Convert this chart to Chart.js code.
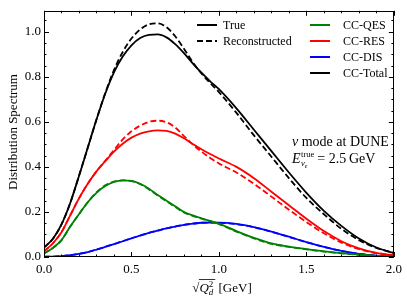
<!DOCTYPE html>
<html>
<head>
<meta charset="utf-8">
<script src="https://cdn.jsdelivr.net/npm/chart.js@4.4.1/dist/chart.umd.min.js"></script>
<style>
  html, body { margin: 0; padding: 0; background: #fff; }
  #wrap { width: 407px; height: 305px; position: relative; }
</style>
</head>
<body>
<div id="wrap"><canvas id="c"></canvas></div>
<script>
// ---- data ----
const xs = [0,0.05,0.1,0.15,0.2,0.25,0.3,0.35,0.4,0.45,0.5,0.55,0.6,0.65,0.7,0.75,0.8,0.85,0.9,0.95,1.0,1.1,1.2,1.3,1.4,1.5,1.6,1.7,1.8,1.9,2.0];

const totalTrue = [0.042,0.08,0.145,0.24,0.36,0.485,0.61,0.725,0.82,0.89,0.94,0.972,0.986,0.988,0.975,0.945,0.905,0.86,0.818,0.78,0.745,0.66,0.565,0.47,0.375,0.285,0.205,0.138,0.082,0.042,0.018];
const totalReco = [0.042,0.08,0.145,0.24,0.36,0.485,0.61,0.728,0.83,0.91,0.97,1.01,1.033,1.037,1.02,0.98,0.925,0.865,0.815,0.772,0.732,0.64,0.54,0.445,0.35,0.262,0.19,0.125,0.075,0.04,0.018];

const resTrue = [0.025,0.06,0.11,0.185,0.26,0.325,0.38,0.425,0.468,0.503,0.53,0.548,0.558,0.562,0.56,0.548,0.527,0.502,0.478,0.457,0.437,0.4,0.35,0.29,0.23,0.17,0.115,0.07,0.038,0.018,0.008];
const resReco = [0.025,0.06,0.11,0.185,0.26,0.325,0.38,0.427,0.475,0.522,0.558,0.583,0.6,0.605,0.598,0.575,0.537,0.5,0.468,0.44,0.415,0.375,0.325,0.268,0.21,0.155,0.105,0.064,0.035,0.017,0.008];

const qesTrue = [0.015,0.04,0.075,0.135,0.19,0.243,0.285,0.315,0.333,0.34,0.338,0.325,0.303,0.275,0.25,0.225,0.2,0.185,0.172,0.16,0.148,0.115,0.085,0.06,0.046,0.035,0.025,0.017,0.01,0.005,0.002];
const qesReco = [0.015,0.04,0.075,0.135,0.19,0.243,0.287,0.318,0.335,0.34,0.337,0.323,0.3,0.273,0.248,0.222,0.198,0.183,0.17,0.158,0.146,0.113,0.083,0.058,0.045,0.034,0.024,0.016,0.01,0.005,0.002];

const disTrue = [0.001,0.002,0.004,0.008,0.014,0.022,0.033,0.045,0.057,0.07,0.083,0.095,0.107,0.117,0.127,0.135,0.143,0.148,0.152,0.153,0.153,0.147,0.133,0.113,0.09,0.066,0.045,0.027,0.014,0.006,0.002];
const disReco = [0.001,0.002,0.004,0.008,0.014,0.022,0.033,0.045,0.057,0.07,0.083,0.095,0.107,0.117,0.127,0.135,0.143,0.148,0.152,0.153,0.152,0.146,0.132,0.112,0.089,0.066,0.045,0.027,0.014,0.006,0.002];

const xTicks = [0, 0.5, 1.0, 1.5, 2.0];
const xTickLabels = ['0.0','0.5','1.0','1.5','2.0'];
const yTicks = [0, 0.2, 0.4, 0.6, 0.8, 1.0];
const yTickLabels = ['0.0','0.2','0.4','0.6','0.8','1.0'];
const xMinorStep = 0.1, yMinorStep = 0.05;

const legendStyle = ['True', 'Reconstructed'];
const legendComp = ['CC-QES', 'CC-RES', 'CC-DIS', 'CC-Total'];
const compColors = ['#008000', '#ff0000', '#0000ff', '#000000'];

// ---- chart ----
const SERIF = '"Liberation Serif", "DejaVu Serif", serif';
const pts = arr => xs.map((x, i) => ({x: x, y: arr[i]}));
const ds = (arr, color, dashed) => ({
  data: pts(arr), borderColor: color, borderWidth: 1.8, borderDash: dashed ? [6, 3] : [],
  pointRadius: 0, fill: false, cubicInterpolationMode: 'monotone', tension: 0.4
});

const decor = {
  id: 'decor',
  afterDraw(chart) {
    const ctx = chart.ctx, a = chart.chartArea;
    const xs_ = chart.scales.x, ys_ = chart.scales.y;
    ctx.save();
    ctx.strokeStyle = '#000'; ctx.lineWidth = 1;
    // frame
    ctx.strokeRect(Math.round(a.left) + 0.5, Math.round(a.top) + 0.5, Math.round(a.right - a.left) - 1, Math.round(a.bottom - a.top) - 1);
    // ticks inward
    ctx.beginPath();
    const nx = Math.round((xs_.max - xs_.min) / xMinorStep);
    for (let i = 0; i <= nx; i++) {
      const v = xs_.min + i * xMinorStep;
      const major = xTicks.some(t => Math.abs(t - v) < 1e-6);
      const L = major ? 5 : 2.5;
      const px = Math.round(xs_.getPixelForValue(v)) + 0.5;
      ctx.moveTo(px, a.bottom); ctx.lineTo(px, a.bottom - L);
      ctx.moveTo(px, a.top); ctx.lineTo(px, a.top + L);
    }
    const ny = Math.floor((ys_.max - ys_.min) / yMinorStep + 1e-6);
    for (let i = 0; i <= ny; i++) {
      const v = ys_.min + i * yMinorStep;
      const major = yTicks.some(t => Math.abs(t - v) < 1e-6);
      const L = major ? 5 : 2.5;
      const py = Math.round(ys_.getPixelForValue(v)) + 0.5;
      ctx.moveTo(a.left, py); ctx.lineTo(a.left + L, py);
      ctx.moveTo(a.right, py); ctx.lineTo(a.right - L, py);
    }
    ctx.stroke();

    // legend
    ctx.fillStyle = '#000';
    ctx.font = '12px ' + SERIF;
    ctx.textBaseline = 'middle'; ctx.textAlign = 'left';
    const rowY = [25, 41, 57, 73];
    legendStyle.forEach((t, i) => {
      ctx.beginPath();
      ctx.lineWidth = 2; ctx.strokeStyle = '#000';
      ctx.setLineDash(i === 1 ? [6, 3] : []);
      ctx.moveTo(197, rowY[i]); ctx.lineTo(217, rowY[i]); ctx.stroke();
      ctx.setLineDash([]);
      ctx.fillText(t, 223, rowY[i] + 1);
    });
    legendComp.forEach((t, i) => {
      ctx.beginPath();
      ctx.lineWidth = 2; ctx.strokeStyle = compColors[i];
      ctx.moveTo(310, rowY[i]); ctx.lineTo(330, rowY[i]); ctx.stroke();
      ctx.fillText(t, 343, rowY[i] + 1);
    });

    // annotation
    ctx.textBaseline = 'alphabetic';
    let x = 292, y = 146;
    ctx.font = 'italic 14px ' + SERIF; ctx.fillText('ν', x, y); x += ctx.measureText('ν').width;
    ctx.font = '14px ' + SERIF; ctx.fillText(' mode at DUNE', x, y);
    x = 292; y = 163;
    ctx.font = 'italic 14px ' + SERIF; ctx.fillText('E', x, y); x += ctx.measureText('E').width + 0.5;
    ctx.font = '8.5px ' + SERIF; ctx.fillText('true', x, y - 6);
    const wTrue = ctx.measureText('true').width;
    ctx.font = 'italic 8.5px ' + SERIF; ctx.fillText('ν', x, y + 3);
    const wNu = ctx.measureText('ν').width;
    ctx.font = 'italic 6px ' + SERIF; ctx.fillText('e', x + wNu, y + 5);
    x += Math.max(wTrue, wNu + 4) + 3;
    ctx.font = '14px ' + SERIF; ctx.fillText('= 2.5\u2009GeV', x, y);

    // y title
    ctx.save();
    ctx.translate(13.5, 132); ctx.rotate(-Math.PI / 2);
    ctx.textAlign = 'center'; ctx.textBaseline = 'middle';
    ctx.font = '13px ' + SERIF;
    ctx.fillText('Distribution Spectrum', 0, 0);
    ctx.restore();

    // x title: sqrt(Q_d^2) [GeV]
    ctx.textAlign = 'left'; ctx.textBaseline = 'alphabetic';
    ctx.font = '13px ' + SERIF;
    const wR = ctx.measureText('√').width;
    ctx.font = 'italic 13px ' + SERIF; const wQ = ctx.measureText('Q').width;
    ctx.font = 'italic 9px ' + SERIF; const wd = ctx.measureText('d').width;
    ctx.font = '13px ' + SERIF; const wG = ctx.measureText(' [GeV]').width;
    const total = wR + wQ + wd + 2 + wG;
    x = 222 - total / 2; y = 292;
    ctx.font = '13px ' + SERIF; ctx.fillText('√', x, y);
    const xo = x + wR - 0.5; x += wR;
    ctx.font = 'italic 13px ' + SERIF; ctx.fillText('Q', x, y); x += wQ;
    ctx.font = 'italic 9px ' + SERIF; ctx.fillText('d', x, y + 3);
    ctx.font = '9px ' + SERIF; ctx.fillText('2', x, y - 5);
    x += wd + 2;
    ctx.beginPath(); ctx.strokeStyle = '#000'; ctx.lineWidth = 0.8;
    ctx.moveTo(xo, y - 12.5); ctx.lineTo(x, y - 12.5); ctx.stroke();
    ctx.font = '13px ' + SERIF; ctx.fillText(' [GeV]', x, y);
    ctx.restore();
  }
};

new Chart(document.getElementById('c'), {
  type: 'line',
  data: {
    datasets: [
      ds(qesTrue, compColors[0], false), ds(qesReco, compColors[0], true),
      ds(resTrue, compColors[1], false), ds(resReco, compColors[1], true),
      ds(disTrue, compColors[2], false), ds(disReco, compColors[2], true),
      ds(totalTrue, compColors[3], false), ds(totalReco, compColors[3], true)
    ]
  },
  options: {
    responsive: true, maintainAspectRatio: false, animation: false, devicePixelRatio: 1,
    layout: { padding: { left: 0, right: 8, top: 9, bottom: 0 } },
    plugins: { legend: { display: false }, tooltip: { enabled: false } },
    scales: {
      x: {
        type: 'linear', min: 0, max: 2,
        grid: { display: false, drawTicks: false }, border: { display: false },
        afterBuildTicks: s => { s.ticks = xTicks.map(v => ({ value: v })); },
        afterFit: s => { s.height = 48; },
        ticks: { padding: 5, color: '#000', font: { family: SERIF, size: 13 },
                 callback: (v) => xTickLabels[xTicks.findIndex(t => Math.abs(t - v) < 1e-6)] ?? '' }
      },
      y: {
        type: 'linear', min: 0, max: 1.093,
        grid: { display: false, drawTicks: false }, border: { display: false },
        afterBuildTicks: s => { s.ticks = yTicks.map(v => ({ value: v })); },
        afterFit: s => { s.width = 44; },
        ticks: { padding: 3, color: '#000', font: { family: SERIF, size: 13 },
                 callback: (v) => yTickLabels[yTicks.findIndex(t => Math.abs(t - v) < 1e-6)] ?? '' }
      }
    }
  },
  plugins: [decor]
});
</script>
</body>
</html>
